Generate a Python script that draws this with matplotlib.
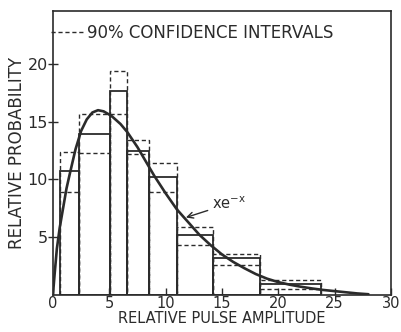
import matplotlib
matplotlib.use("Agg")
import matplotlib.pyplot as plt
from matplotlib.lines import Line2D
import numpy as np

# ---- data ----
bin_edges = [0.6, 2.3, 5.1, 6.6, 8.5, 11.0, 14.2, 18.4, 23.8]
probability = [10.7, 13.9, 17.7, 12.5, 10.2, 5.2, 3.2, 0.95]
upper_ci = [12.4, 15.7, 19.4, 13.4, 11.4, 5.9, 3.5, 1.3]
lower_ci = [8.9, 12.3, 15.7, 12.2, 8.9, 4.3, 2.6, 0.5]

curve_x = [0, 0.15, 0.35, 0.6, 0.9, 1.2, 1.5, 2.0, 2.5, 3.0, 3.5, 4.0, 4.5, 5.2,
           6.0, 6.6, 7.5, 8.1, 9.0, 10.0, 11.0, 12.0, 13.0, 14.0, 15.0, 16.0,
           17.0, 18.0, 19.0, 20.0, 21.0, 22.0, 23.0, 24.0, 25.0, 26.0, 27.0, 28.0]
curve_y = [0, 1.8, 4.0, 5.8, 7.5, 9.2, 10.5, 12.6, 14.2, 15.2, 15.8, 16.0, 15.9, 15.5,
           14.8, 14.1, 12.8, 11.8, 10.3, 8.8, 7.4, 6.3, 5.2, 4.3, 3.5, 2.85,
           2.3, 1.8, 1.4, 1.1, 0.88, 0.7, 0.55, 0.42, 0.32, 0.22, 0.12, 0.05]

x_ticks = [0, 5, 10, 15, 20, 25, 30]
y_ticks = [5, 10, 15, 20]

ink = "#2b2b2b"
plt.rcParams["font.family"] = ["DejaVu Sans"]
plt.rcParams["mathtext.default"] = "regular"

fig = plt.figure(figsize=(4.01, 3.32), dpi=100)
ax = fig.add_axes([0.132, 0.112, 0.843, 0.855])

lefts = np.array(bin_edges[:-1])
widths = np.diff(bin_edges)
rights = lefts + widths

# upper confidence boxes (dashed)
ax.bar(lefts, upper_ci, width=widths, align="edge", fill=False,
       edgecolor=ink, linewidth=1.0, linestyle=(0, (3, 2)), zorder=1)
# measured histogram (solid)
ax.bar(lefts, probability, width=widths, align="edge", fill=False,
       edgecolor=ink, linewidth=1.3, zorder=2)
# lower confidence lines (dashed)
ax.hlines(lower_ci, lefts, rights, colors=ink, linewidth=1.0,
          linestyles=(0, (3, 2)), zorder=2)

# theoretical curve
ax.plot(curve_x, curve_y, color=ink, linewidth=1.9, zorder=3,
        solid_capstyle="round")

ax.annotate("xe$^{-x}$", xy=(11.8, 6.7), xytext=(14.1, 7.9),
            fontsize=10.5, color=ink, ha="left", va="center",
            arrowprops=dict(arrowstyle="->", color=ink, lw=1.0,
                            shrinkA=1, shrinkB=0))

handle = Line2D([], [], color=ink, linewidth=1.0, linestyle=(0, (3, 2)))
leg = ax.legend([handle], ["90% CONFIDENCE INTERVALS"], loc="center left",
                bbox_to_anchor=(-0.005, 0.923), frameon=False, fontsize=12,
                handlelength=1.9, handletextpad=0.25, borderpad=0,
                borderaxespad=0)
for t in leg.get_texts():
    t.set_color(ink)

ax.set_xlim(0, 30)
ax.set_ylim(0, 24.6)
ax.set_xticks(x_ticks)
ax.set_yticks(y_ticks)
ax.tick_params(axis="x", direction="in", length=5, width=1.0, colors=ink,
               labelsize=10.5, pad=1)
ax.tick_params(axis="y", direction="inout", length=7, width=1.0, colors=ink,
               labelsize=11.5, pad=0)
for s in ax.spines.values():
    s.set_linewidth(1.2)
    s.set_color(ink)

ax.set_xlabel("RELATIVE PULSE AMPLITUDE", fontsize=10.5, color=ink, labelpad=0)
ax.set_ylabel("RELATIVE PROBABILITY", fontsize=12, color=ink, labelpad=1.5)

fig.savefig("out.png", dpi=100, facecolor="white")
